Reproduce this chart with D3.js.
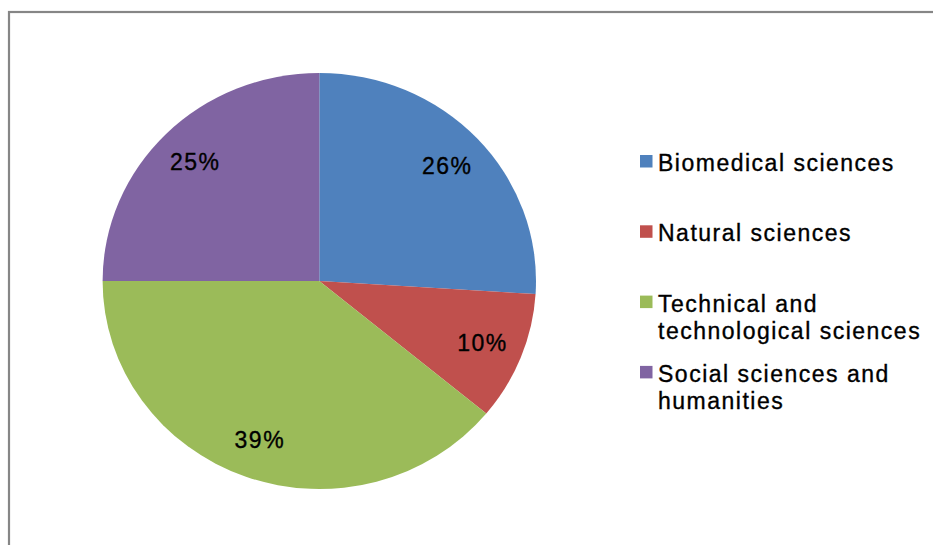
<!DOCTYPE html>
<html>
<head>
<meta charset="utf-8">
<script src="https://cdn.jsdelivr.net/npm/d3@7/dist/d3.min.js"></script>
<style>
  html, body { margin: 0; padding: 0; background: #fff; }
  svg { display: block; }
  text { font-family: "Liberation Sans", Arial, sans-serif; fill: #000; stroke: #000; stroke-width: 0.35px; }
</style>
</head>
<body>
<svg id="chart" width="933" height="545"></svg>
<script>
// Share of fields of science (percent)
const categories = [
  "Biomedical sciences",
  "Natural sciences",
  "Technical and technological sciences",
  "Social sciences and humanities"
];
const shares = [26, 10, 39, 25];
const colors = ["#4F81BD", "#C0504D", "#9BBB59", "#8064A2"];

const svg = d3.select("#chart");

// Chart area frame (its right and bottom edges run past the page)
svg.append("rect")
  .attr("x", 9).attr("y", 12)
  .attr("width", 1000).attr("height", 1000)
  .attr("fill", "none")
  .attr("stroke", "#868686")
  .attr("stroke-width", 2.2);

// Pie geometry: slightly flattened vertically
const cx = 319.3, cy = 281;
const r = 216.7;
const yScale = 0.96;

const data = categories.map((c, i) => ({ name: c, value: shares[i], color: colors[i] }));

const pie = d3.pie().value(d => d.value).sort(null);
const arcs = pie(data);
const arc = d3.arc().innerRadius(0).outerRadius(r);
const labelArc = d3.arc().innerRadius(r * 0.81).outerRadius(r * 0.81);

const g = svg.append("g")
  .attr("transform", `translate(${cx},${cy}) scale(1,${yScale})`);

g.selectAll("path.slice")
  .data(arcs)
  .join("path")
  .attr("class", "slice")
  .attr("d", arc)
  .attr("fill", d => d.data.color);

// Percentage labels
const fmt = d3.format(".0%");
const total = d3.sum(shares);
svg.append("g")
  .selectAll("text")
  .data(arcs)
  .join("text")
  .attr("x", d => cx + labelArc.centroid(d)[0])
  .attr("y", d => cy + labelArc.centroid(d)[1] * yScale)
  .attr("dy", "0.35em")
  .attr("text-anchor", "middle")
  .style("font-size", "23px")
  .style("letter-spacing", "1.5px")
  .text(d => fmt(d.data.value / total));

// Legend
const legendX = 640, textX = 658;
const legendY = d3.scaleLinear().domain([0, 1]).range([171, 241.3]);
const lineH = 27, maxW = 270;

const items = svg.append("g")
  .selectAll("g")
  .data(data)
  .join("g");

items.append("rect")
  .attr("x", legendX)
  .attr("y", (d, i) => legendY(i) - 16)
  .attr("width", 12.5)
  .attr("height", 12.5)
  .attr("fill", d => d.color);

items.each(function (d, i) {
  const t = d3.select(this).append("text")
    .attr("x", textX)
    .attr("y", legendY(i))
    .style("font-size", "23px")
    .style("letter-spacing", "1.5px");
  const words = d.name.split(" ");
  let line = [];
  let tspan = t.append("tspan").attr("x", textX).attr("dy", 0);
  words.forEach(w => {
    line.push(w);
    tspan.text(line.join(" "));
    if (tspan.node().getComputedTextLength() > maxW && line.length > 1) {
      line.pop();
      tspan.text(line.join(" "));
      line = [w];
      tspan = t.append("tspan").attr("x", textX).attr("dy", lineH).text(w);
    }
  });
});
</script>
</body>
</html>
